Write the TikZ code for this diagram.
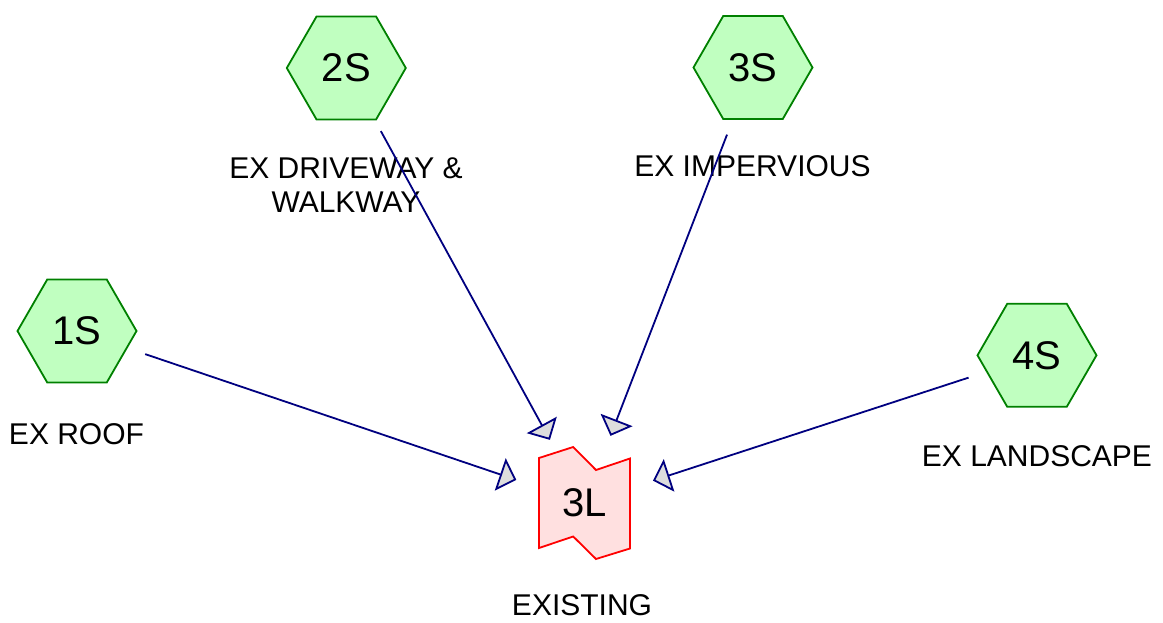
\documentclass[tikz,border=0pt]{standalone}
\usepackage{fontspec}
\setmainfont{Liberation Sans}
\usetikzlibrary{shapes.geometric,arrows.meta}
\definecolor{hexfill}{HTML}{C0FFC0}
\definecolor{hexline}{HTML}{008000}
\definecolor{pondfill}{HTML}{FFE0E0}
\definecolor{pondline}{HTML}{FF0000}
\definecolor{linkline}{HTML}{000080}
\definecolor{tipfill}{HTML}{DDDDDD}

\begin{document}
\begin{tikzpicture}[x=1pt,y=-1pt,
  subcat/.style={regular polygon, regular polygon sides=6, minimum size=119pt,
    inner sep=0pt, draw=hexline, fill=hexfill, line width=1.8pt,
    font=\fontsize{40}{40}\selectfont},
  pondoutline/.style={draw=pondline, fill=pondfill, line width=1.8pt},
  pond/.style={minimum width=91pt, minimum height=112pt, inner sep=0pt,
    font=\fontsize{40}{40}\selectfont},
  caption/.style={anchor=base, font=\fontsize{30}{33}\selectfont,
    align=center, inner sep=0pt},
  link/.style={draw=linkline, line width=1.8pt, shorten <=72pt, shorten >=72pt,
    -{Triangle[length=17pt,width=34pt,fill=tipfill]}}
]
% canvas
\fill[white] (0,0) rectangle (1163,623);
\useasboundingbox (0,0) rectangle (1163,623);

% pond outline, drawn under its label
\coordinate (pondc) at (584.5,503);
\path[pondoutline, shift={(pondc)}]
  (-45.5,-45) -- (-11.3,-56) -- (11.5,-33) -- (45.5,-44.5) --
  (45.5,45.5) -- (11.5,56) -- (-11.3,33.5) -- (-45.5,45) -- cycle;

% subcatchments and pond
\node[subcat] (s1) at (77,331) {1S};
\node[subcat] (s2) at (346.3,68) {2S};
\node[subcat] (s3) at (753,67.5) {3S};
\node[subcat] (s4) at (1037,355.3) {4S};
\node[pond] (l3) at (pondc) {3L};

% captions
\node[caption] (c1) at (76.5,444) {EX ROOF};
\node[caption] (c2) at (346,212) {EX DRIVEWAY \&\\WALKWAY};
\node[caption] (c3) at (752.5,177) {EX IMPERVIOUS};
\node[caption] (c4) at (1037,466.5) {EX LANDSCAPE};
\node[caption] (c5) at (582,615) {EXISTING};

% flow links
\draw[link] (s1.center) -- (l3.center);
\draw[link] (s2.center) -- (l3.center);
\draw[link] (s3.center) -- (l3.center);
\draw[link] (s4.center) -- (l3.center);
\end{tikzpicture}
\end{document}
